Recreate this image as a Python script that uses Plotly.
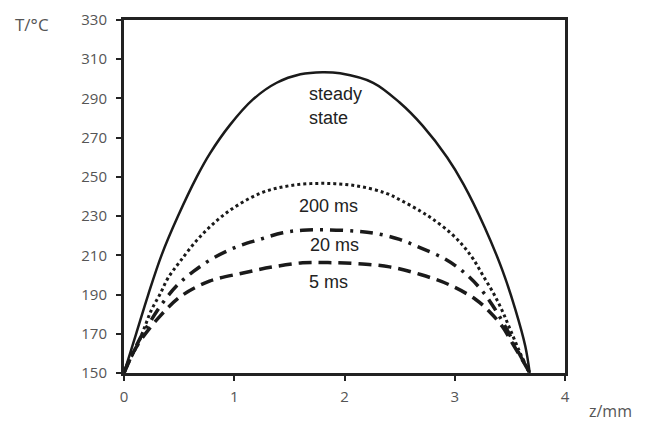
import plotly.graph_objects as go

# steady state
z_ss = [0, 0.11, 0.22, 0.34, 0.49, 0.66, 0.78, 0.96, 1.17, 1.385, 1.60, 1.80, 1.96, 2.26, 2.50, 2.71, 2.93, 3.08, 3.27, 3.43, 3.55, 3.64, 3.68]
T_ss = [150, 170, 190, 210, 230, 250, 262, 276.4, 289.5, 298, 302.3, 303.4, 302.8, 298, 287.9, 276, 260, 246.2, 224.5, 202.7, 182.3, 163.6, 150]

# 200 ms
z_200 = [0, 0.055, 0.13, 0.19, 0.25, 0.325, 0.40, 0.51, 0.69, 0.93, 1.23, 1.5, 1.8, 2.10, 2.37, 2.53, 2.69, 2.80, 2.96, 3.08, 3.17, 3.26, 3.35, 3.43, 3.50, 3.58, 3.65, 3.68]
T_200 = [150, 156.8, 165.3, 173.8, 182.3, 190, 198.5, 207, 219.5, 231.7, 241.5, 245.5, 246.7, 245.5, 241.8, 237.5, 232.5, 228.5, 221.5, 214.6, 207.9, 199.3, 190.8, 181.8, 172.6, 161.9, 153.4, 150]

# 20 ms
z_20 = [0, 0.14, 0.23, 0.35, 0.48, 0.63, 0.81, 1.02, 1.23, 1.44, 1.62, 1.85, 2.11, 2.29, 2.50, 2.69, 2.91, 3.08, 3.24, 3.36, 3.47, 3.57, 3.68]
T_20 = [150, 167, 175.5, 185.7, 194.6, 201.8, 208.6, 214.3, 218.1, 221.5, 222.8, 223, 222.3, 221.1, 218.1, 213.8, 208.2, 201.5, 192.5, 183, 172.5, 161.5, 150]

# 5 ms
z_5 = [0, 0.05, 0.15, 0.325, 0.525, 0.775, 1.08, 1.35, 1.62, 1.85, 2.11, 2.41, 2.69, 2.95, 3.19, 3.32, 3.43, 3.53, 3.63, 3.68]
T_5 = [150, 156.8, 166.6, 178.9, 189.5, 196.8, 201, 204.1, 206.2, 206.3, 205.8, 204.1, 200.2, 195, 187.5, 181, 173.8, 164.5, 155.1, 150]

x_ticks = [0, 1, 2, 3, 4]
y_ticks = [150, 170, 190, 210, 230, 250, 270, 290, 310, 330]

series = [
    (z_ss, T_ss, "solid", 2.5),
    (z_200, T_200, "3px,3px", 3),
    (z_20, T_20, "13px,7px,3px,7px", 3.5),
    (z_5, T_5, "13px,7px", 3.5),
]

fig = go.Figure()
for zz, tt, dash, w in series:
    fig.add_trace(go.Scatter(x=zz, y=tt, mode="lines",
                             line=dict(color="#1a1a1a", width=w, dash=dash, shape="spline", smoothing=1.0),
                             showlegend=False, hoverinfo="skip"))

labels = [
    (1.66, 292.1, "steady", "left"),
    (1.66, 280.2, "state", "left"),
    (1.853, 235.1, "200 ms", "center"),
    (1.905, 215.1, "20 ms", "center"),
    (1.853, 196.3, "5 ms", "center"),
]
for x, y, t, al in labels:
    fig.add_annotation(x=x, y=y, text=t, showarrow=False, xanchor=al, yanchor="middle",
                       font=dict(family="Liberation Sans, Arial", size=18, color="#222"))

fig.add_annotation(xref="paper", yref="paper", x=-0.165, y=0.986, text="T/°C", showarrow=False,
                   xanchor="right", yanchor="middle",
                   font=dict(family="Open Sans", size=17, color="#555"))
fig.add_annotation(xref="paper", yref="paper", x=1.05, y=-0.108, text="z/mm", showarrow=False,
                   xanchor="left", yanchor="middle",
                   font=dict(family="Open Sans", size=16, color="#555"))

axis_common = dict(showline=True, linecolor="#222", linewidth=3, mirror=True,
                   showgrid=False, zeroline=False, ticks="outside", ticklen=5,
                   tickwidth=2, tickcolor="#222", automargin=False,
                   tickfont=dict(family="Open Sans", size=15, color="#555"))

fig.update_xaxes(range=[0, 4], tickvals=x_ticks, ticktext=[str(v) for v in x_ticks],
                 ticklabelstandoff=3, **axis_common)
fig.update_yaxes(range=[150, 330], tickvals=y_ticks, ticktext=[str(v) for v in y_ticks],
                 ticklabelstandoff=6, **axis_common)

fig.update_layout(width=638, height=413, margin=dict(l=116, r=81, t=12, b=48),
                  plot_bgcolor="white", paper_bgcolor="white")

fig.write_html("out.html")
